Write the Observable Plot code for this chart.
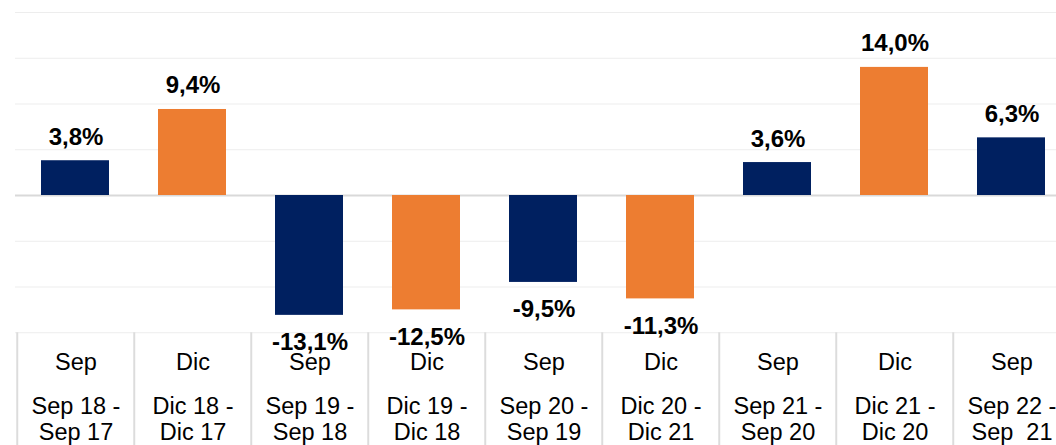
<!DOCTYPE html>
<html><head><meta charset="utf-8">
<script src="https://cdn.jsdelivr.net/npm/d3@7"></script>
<script src="https://cdn.jsdelivr.net/npm/@observablehq/plot@0.6"></script>
<style>html,body{margin:0;padding:0;overflow:hidden;background:#fff}</style>
</head><body><div id="chart"></div>
<script>
const months = ["Sep", "Dic", "Sep", "Dic", "Sep", "Dic", "Sep", "Dic", "Sep"];
const periods = ["Sep 18 -\nSep 17", "Dic 18 -\nDic 17", "Sep 19 -\nSep 18", "Dic 19 -\nDic 18", "Sep 20 -\nSep 19", "Dic 20 -\nDic 21", "Sep 21 -\nSep 20", "Dic 21 -\nDic 20", "Sep 22 -\nSep  21"];
const values = [3.8, 9.4, -13.1, -12.5, -9.5, -11.3, 3.6, 14.0, 6.3];
const gridTicks = [-15, -10, -5, 5, 10, 15, 20];

const data = periods.map((p, i) => ({period: p, month: months[i], value: values[i]}));
const fmt = v => v.toFixed(1).replace(".", ",") + "%";
const monthOf = p => months[periods.indexOf(p)];

const W = 1056, H = 470, left = 15, right = 1072.5;
const step = (right - left) / periods.length;

const chart = Plot.plot({
  width: W,
  height: H,
  marginTop: 12,
  marginBottom: H - 332.25,
  marginLeft: left,
  marginRight: 0,
  style: {fontFamily: "'Liberation Sans', Arial, sans-serif", background: "#fff", color: "#000"},
  x: {domain: periods, range: [left, right], padding: 0},
  y: {domain: [-15, 20], axis: null},
  color: {domain: ["Sep", "Dic"], range: ["#002060", "#ED7D31"]},
  marks: [
    Plot.ruleY(gridTicks, {stroke: "#ededed", strokeWidth: 1.2}),
    Plot.ruleY([0], {stroke: "#d9d9d9", strokeWidth: 2}),
    Plot.barY(data, {x: "period", y: "value", fill: "month", insetLeft: 24, insetRight: 25}),
    Plot.text(data.filter(d => d.value >= 0), {x: "period", y: "value", text: d => fmt(d.value), lineAnchor: "bottom", dy: -16, fontSize: 24, fontWeight: "bold", fill: "#000"}),
    Plot.text(data.filter(d => d.value < 0), {x: "period", y: "value", text: d => fmt(d.value), lineAnchor: "bottom", dy: 35, fontSize: 24, fontWeight: "bold", fill: "#000"}),
    Plot.axisX({tickSize: 150, tickFormat: () => "", stroke: "#dcdcdc", strokeWidth: 2, dx: -step / 2, label: null}),
    Plot.axisX({tickSize: 0, tickPadding: 20.5, tickFormat: monthOf, fontSize: 23.5, fill: "#000", label: null}),
    Plot.axisX({tickSize: 0, tickPadding: 63, tickFormat: d => d, fontSize: 23.5, lineHeight: 1.1, fill: "#000", label: null})
  ]
});
document.getElementById("chart").appendChild(chart);
</script>
</body></html>
